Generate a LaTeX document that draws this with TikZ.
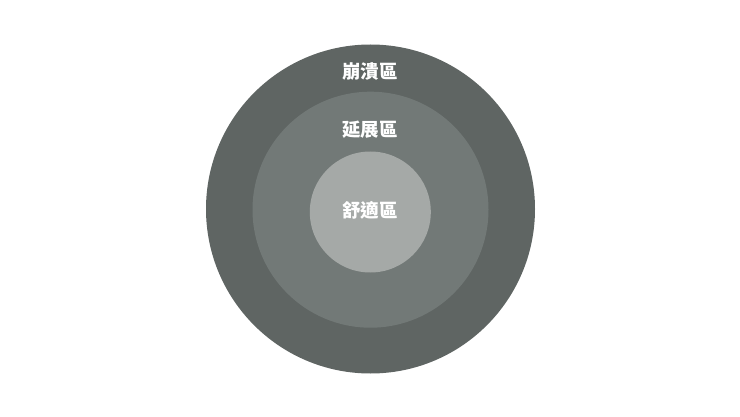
\documentclass[tikz,border=0pt]{standalone}
\usepackage{fontspec}
\newfontfamily\cjk{Noto Sans CJK TC}
\definecolor{zoneout}{RGB}{95,101,99}
\definecolor{zonemid}{RGB}{114,121,119}
\definecolor{zonein}{RGB}{165,169,167}
\tikzset{
	zone/.style={circle, inner sep=0pt, draw=none},
	zonetext/.style={text=white, font=\cjk\bfseries\fontsize{18.5}{22}\selectfont}
}

\begin{document}
\begin{tikzpicture}[x=1pt, y=1pt]
				\useasboundingbox[fill=white] (0, 0) rectangle (740, 416);
				
				\node[zone, fill=zoneout, minimum size=329pt] (panic) at (370.5, 207) {};
				\node[zone, fill=zonemid, minimum size=236pt] (stretch) at (370.5, 206.3) {};
				\node[zone, fill=zonein, minimum size=121pt] (comfort) at (370.3, 204) {};
				
				\node[zonetext] (paniclabel) at (370, 344.5) {崩潰區};
				\node[zonetext] (stretchlabel) at (370, 286) {延展區};
				\node[zonetext] (comfortlabel) at (370, 206) {舒適區};
			\end{tikzpicture}
\end{document}
